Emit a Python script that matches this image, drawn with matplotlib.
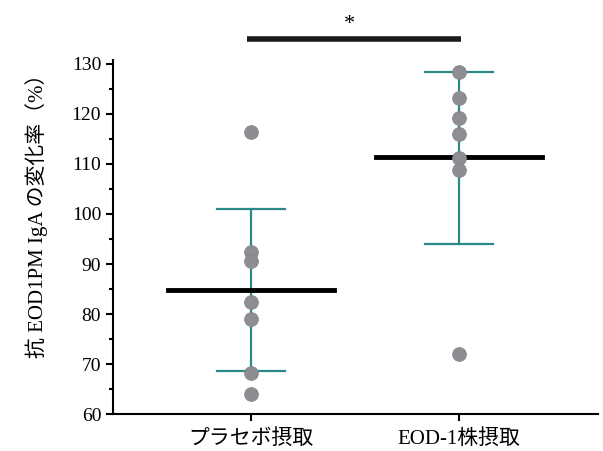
import matplotlib

matplotlib.use('agg')
import matplotlib.pyplot as plt
from matplotlib.ticker import MultipleLocator

# data
groups = ['プラセボ摂取', 'EOD-1株摂取']
placebo = [116.3, 92.5, 90.7, 82.4, 79.1, 68.2, 64.1]
eod1 = [128.3, 123.1, 119.2, 115.9, 111.1, 108.7, 72.1]
means = [84.8, 111.3]
err_low = [68.7, 94.1]
err_high = [100.9, 128.3]

plt.rcParams['font.family'] = ['Liberation Serif', 'Noto Sans CJK JP']

fig = plt.figure(figsize=(6.03, 4.51), dpi=100)
ax = fig.add_axes([0.1874, 0.082, 0.8043, 0.785])

teal = '#2b8a87'
for i, vals in enumerate([placebo, eod1]):
    # error bar (vertical line + caps)
    ax.plot([i, i], [err_low[i], err_high[i]], color=teal, lw=1.6, zorder=1)
    for v in (err_low[i], err_high[i]):
        ax.plot([i - 0.165, i + 0.165], [v, v], color=teal, lw=1.6, zorder=1)
    # points
    ax.plot([i] * len(vals), vals, 'o', ms=10, color='#8e8e92',
            markeredgecolor='#858589', markeredgewidth=0.5, zorder=3)
    # mean line
    ax.plot([i - 0.4, i + 0.4], [means[i], means[i]], color='black', lw=3.5, zorder=2)

# significance bar
ax.plot([-0.02, 1.01], [135.0, 135.0], color='#1a1a1a', lw=4, clip_on=False,
        solid_capstyle='butt')
ax.text(0.475, 136.0, '*', ha='center', va='bottom', fontsize=16)

ax.set_xlim(-0.663, 1.668)
ax.set_ylim(60, 130.8)
ax.set_xticks([0, 1])
ax.set_xticklabels(groups, fontsize=15)
ax.set_yticks(range(60, 131, 10))
ax.yaxis.set_minor_locator(MultipleLocator(5))
ax.tick_params(axis='y', labelsize=14, width=1.5, length=5)
ax.tick_params(axis='y', which='minor', width=1.5, length=3)
ax.tick_params(axis='x', width=1.5, length=5, pad=6)
ax.set_ylabel('抗 EOD1PM IgA の変化率（%）', fontsize=15)
ax.yaxis.set_label_coords(-0.134, 0.573)

for s in ['top', 'right']:
    ax.spines[s].set_visible(False)
for s in ['left', 'bottom']:
    ax.spines[s].set_linewidth(1.5)

fig.savefig('out.png', dpi=100)
